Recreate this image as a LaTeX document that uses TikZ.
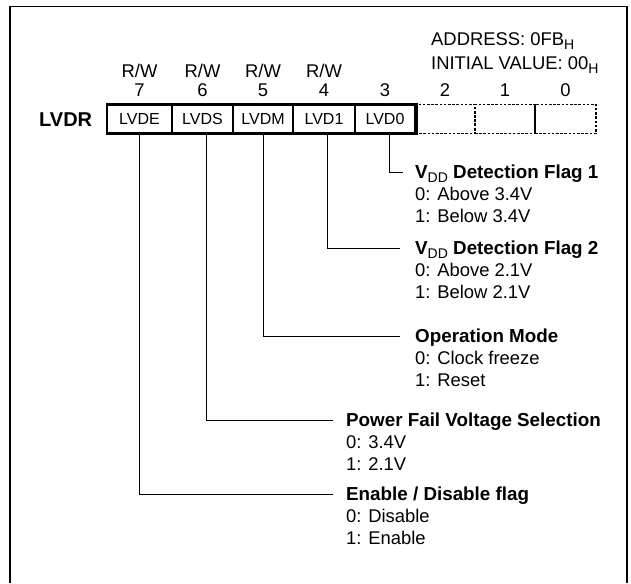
\documentclass[tikz,border=0pt]{standalone}
\usepackage{fontspec}
\setmainfont{Liberation Sans}
\newcommand\subtxt[1]{\raisebox{-3.5pt}{\fontsize{14}{14}\selectfont\mdseries #1}}
\begin{document}
\begin{tikzpicture}[x=1pt,y=-1pt,
  cell/.style={draw, line width=2.6pt, minimum height=29pt, inner sep=0pt,
    font=\fontsize{16}{16}\selectfont, text height=11.5pt, text depth=0pt},
  dcell/.style={draw, line width=1.8pt, dash pattern=on 2.6pt off 1.6pt,
    minimum height=29pt, inner sep=0pt},
  lbl/.style={anchor=base, inner sep=0pt, font=\fontsize{18.4}{22}\selectfont},
  head/.style={anchor=west, inner sep=0pt, text height=13pt, text depth=0pt,
    font=\fontsize{18.8}{22}\selectfont\bfseries},
  body/.style={anchor=base west, inner sep=0pt, font=\fontsize{18.4}{22}\selectfont},
  conn/.style={line width=1pt}]
\useasboundingbox (0,0) rectangle (631,583);
% frame
\draw[line width=1.2pt] (10,583) -- (10,6.5) -- (627,6.5) -- (627,583);
% header
\node[body] (addr) at (431,46) {ADDRESS: 0FB\subtxt{H}};
\node[body] (init) at (431,70) {INITIAL VALUE: 00\subtxt{H}};
\node[anchor=base west, inner sep=0pt, font=\fontsize{20}{20}\selectfont\bfseries] (reg) at (39,126) {LVDR};
% cells
\node[cell, minimum width=65pt] (lvde) at (139.5,119) {LVDE};
\node[cell, minimum width=61pt] (lvds) at (202.5,119) {LVDS};
\node[cell, minimum width=60pt] (lvdm) at (263,119) {LVDM};
\node[cell, minimum width=62pt] (lvd1) at (324,119) {LVD1};
\node[cell, minimum width=60pt] (lvd0) at (385,119) {LVD0};
\node[dcell, minimum width=60pt] (b2) at (445,119) {};
\node[dcell, minimum width=60pt] (b1) at (505,119) {};
\node[dcell, minimum width=61pt] (b0) at (565.5,119) {};
\draw[line width=2.6pt] (lvd0.north east) -- (lvd0.south east);
% bit numbers and access
\foreach \c/\n in {lvde/7,lvds/6,lvdm/5,lvd1/4,lvd0/3,b2/2,b1/1,b0/0}{
  \node[lbl] (num\n) at (\c.center |- 0,97) {\n};
}
\foreach \c/\n in {lvde/7,lvds/6,lvdm/5,lvd1/4}{
  \node[lbl] (rw\n) at (\c.center |- 0,78) {R/W};
}
% descriptions
\node[head] (f1) at (415,172) {V\subtxt{DD} Detection Flag 1};
\node[body] (f1a) at (415,200.5) {0: Above 3.4V};
\node[body] (f1b) at (415,222.5) {1: Below 3.4V};
\node[head] (f2) at (415,248) {V\subtxt{DD} Detection Flag 2};
\node[body] (f2a) at (415,276.5) {0: Above 2.1V};
\node[body] (f2b) at (415,298.5) {1: Below 2.1V};
\node[head] (op) at (415,336) {Operation Mode};
\node[body] (opa) at (415,364.5) {0: Clock freeze};
\node[body] (opb) at (415,386.5) {1: Reset};
\node[head] (pf) at (346,420) {Power Fail Voltage Selection};
\node[body] (pfa) at (346,448.5) {0: 3.4V};
\node[body] (pfb) at (346,470.5) {1: 2.1V};
\node[head] (en) at (346,494) {Enable / Disable flag};
\node[body] (ena) at (346,522.5) {0: Disable};
\node[body] (enb) at (346,544.5) {1: Enable};
% connectors
\draw[conn] ([xshift=4pt]lvd0.south) |- ([xshift=-12pt]f1.west);
\draw[conn] ([xshift=3pt]lvd1.south) |- ([xshift=-15pt]f2.west);
\draw[conn] (lvdm.south) |- ([xshift=-15pt]op.west);
\draw[conn] ([xshift=3.5pt]lvds.south) |- ([xshift=-13pt]pf.west);
\draw[conn] ([xshift=-0.5pt]lvde.south) |- ([xshift=-13pt]en.west);
\end{tikzpicture}
\end{document}
